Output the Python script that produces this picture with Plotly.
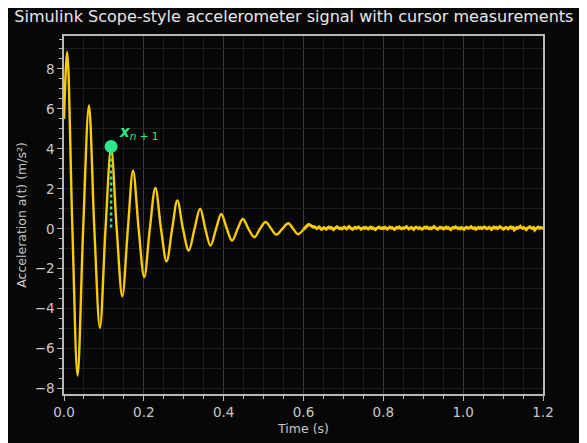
import numpy as np
import plotly.graph_objects as go

# --- data ---
# damped oscillation: start, extrema and zero crossings (time s, accel m/s^2)
osc_t = [0.000, 0.008, 0.021, 0.034, 0.048, 0.0625, 0.076, 0.090, 0.104, 0.118,
         0.132, 0.146, 0.160, 0.173, 0.187, 0.201, 0.215, 0.229, 0.243, 0.257,
         0.271, 0.284, 0.298, 0.3125, 0.327, 0.341, 0.354, 0.367, 0.381, 0.394,
         0.408, 0.421, 0.435, 0.448, 0.462, 0.477, 0.491, 0.505, 0.519, 0.532,
         0.547, 0.562, 0.574, 0.586, 0.600]
osc_a = [5.50, 8.85, 0.00, -7.35, 0.00, 6.17, 0.00, -4.96, 0.00, 4.05,
         0.00, -3.38, 0.00, 2.92, 0.00, -2.42, 0.00, 2.05, 0.00, -1.63,
         0.00, 1.42, 0.00, -1.09, 0.00, 1.01, 0.00, -0.84, 0.00, 0.74,
         0.00, -0.59, 0.00, 0.49, 0.00, -0.42, 0.00, 0.34, 0.00, -0.29,
         0.00, 0.28, 0.00, -0.27, -0.03]

# noisy residual tail, sampled every 3 ms from 0.6 s to 1.2 s
tail_start, tail_step = 0.6, 0.003
tail_a = [-0.03, 0.04, 0.11, 0.17, 0.21, 0.20, 0.16, 0.12, 0.09, 0.11, 0.06, 0.02, 0.05, 0.09, 0.03, -0.03, 0.01, 0.06, 0.02, -0.02,
          0.04, 0.08, 0.03, 0.07, 0.01, -0.04, 0.02, 0.06, 0.10, 0.05, 0.01, 0.04, -0.01, 0.03, 0.08, 0.04, 0.00, 0.06, 0.11, 0.05,
          0.02, -0.03, 0.03, 0.07, 0.02, 0.05, 0.09, 0.04, -0.02, 0.01, 0.06, 0.02, 0.07, 0.03, -0.01, 0.04, 0.08, 0.02, 0.05, 0.00,
          -0.04, 0.02, 0.06, 0.09, 0.04, 0.01, 0.05, 0.02, 0.07, 0.03, -0.02, 0.03, 0.08, 0.04, 0.06, 0.01, -0.03, 0.02, 0.07, 0.04,
          0.09, 0.03, 0.00, 0.05, 0.02, 0.06, 0.10, 0.04, -0.01, 0.03, 0.07, 0.02, -0.03, 0.04, 0.08, 0.05, 0.01, 0.06, 0.03, -0.02,
          0.02, 0.07, 0.04, 0.09, 0.03, 0.00, 0.05, 0.01, 0.06, 0.11, 0.05, 0.02, -0.02, 0.03, 0.07, 0.03, 0.05, -0.01, 0.04, 0.08,
          0.02, 0.06, 0.00, -0.04, 0.03, 0.07, 0.04, 0.09, 0.05, 0.01, 0.04, 0.00, 0.06, 0.02, -0.03, 0.03, 0.08, 0.05, 0.02, 0.06,
          0.10, 0.04, 0.01, 0.05, -0.02, 0.02, 0.07, 0.03, 0.06, 0.01, 0.04, 0.09, 0.05, 0.00, 0.03, 0.07, 0.02, -0.03, 0.04, 0.08,
          0.03, 0.06, 0.01, 0.05, 0.11, 0.06, 0.02, -0.02, 0.03, 0.07, 0.04, 0.00, 0.05, 0.09, 0.03, 0.06, -0.05, 0.01, 0.06, 0.03,
          0.08, 0.12, 0.05, 0.02, 0.06, 0.01, -0.04, 0.03, 0.07, 0.10, 0.04, 0.02, 0.06, -0.06, 0.01, 0.05, 0.08, 0.03, 0.06, 0.04, 0.02]
tail_t = np.round(tail_start + tail_step * np.arange(len(tail_a)), 4)

# cursor measurement
cursor_t = 0.118
cursor_a = 4.12
cursor_label = "<b><i>x</i></b><sub><i>n</i> + 1</sub>"

title_text = "Simulink Scope-style accelerometer signal with cursor measurements"
x_title = "Time (s)"
y_title = "Acceleration a(t) (m/s²)"

# --- style ---
FONT = "DejaVu Sans"
BG = "#070707"
SIG = "#f7cc00"
GREEN = "#2ce88a"
FRAME = "#b8b8b8"
TICKC = "#c8c8c8"

fig = go.Figure()
fig.add_trace(go.Scatter(x=osc_t, y=osc_a, mode="lines",
                         line=dict(color=SIG, width=2.4, shape="spline", smoothing=1.0),
                         hoverinfo="skip", showlegend=False))
fig.add_trace(go.Scatter(x=tail_t, y=tail_a, mode="lines",
                         line=dict(color=SIG, width=3.0),
                         hoverinfo="skip", showlegend=False))
# cursor dotted drop line and marker
fig.add_trace(go.Scatter(x=[cursor_t, cursor_t], y=[cursor_a, 0], mode="lines",
                         line=dict(color=GREEN, width=2.5, dash="dot"),
                         showlegend=False, hoverinfo="skip"))
fig.add_trace(go.Scatter(x=[cursor_t], y=[cursor_a], mode="markers",
                         marker=dict(color=GREEN, size=13),
                         showlegend=False, hoverinfo="skip"))
# secondary overlay axis only for faint unit-spaced horizontal gridlines
fig.add_trace(go.Scatter(x=[0], y=[0], yaxis="y2", mode="markers",
                         marker=dict(opacity=0), showlegend=False, hoverinfo="skip"))

fig.add_annotation(x=cursor_t + 0.016, y=cursor_a + 0.72, text=cursor_label,
                   showarrow=False, xanchor="left", yanchor="middle",
                   font=dict(family=FONT, size=15, color=GREEN))

fig.update_layout(
    width=587, height=443,
    margin=dict(l=56, r=52, t=28, b=57),
    paper_bgcolor=BG, plot_bgcolor=BG,
    font=dict(family=FONT, size=12.5, color=TICKC),
    title=dict(text=title_text, x=0.487, xanchor="center", xref="container",
               y=0.993, yref="container", yanchor="top",
               font=dict(family=FONT, size=16, color="#e8e8e8")),
    xaxis=dict(range=[0, 1.2], dtick=0.2, tick0=0, tickformat=".1f",
               showgrid=True, gridcolor="#3a3a3a", gridwidth=1,
               zeroline=False, showline=True, mirror=True,
               linecolor=FRAME, linewidth=1.5,
               ticks="outside", ticklen=5, tickcolor=FRAME, tickwidth=1,
               minor=dict(dtick=0.05, tick0=0, ticks="outside", ticklen=3,
                          tickcolor=FRAME, showgrid=True, gridcolor="#1c1c1c"),
               title=dict(text=x_title, standoff=5,
                          font=dict(family=FONT, size=12.5, color=TICKC)),
               tickfont=dict(family=FONT, size=13.5, color=TICKC)),
    yaxis=dict(range=[-8.27, 9.65], dtick=2, tick0=0,
               showgrid=True, gridcolor="#3a3a3a", gridwidth=1,
               zeroline=False, showline=True, mirror=True,
               linecolor=FRAME, linewidth=1.5,
               ticks="outside", ticklen=5, tickcolor=FRAME, tickwidth=1,
               minor=dict(dtick=0.5, tick0=0, ticks="outside", ticklen=3,
                          tickcolor=FRAME, showgrid=False),
               title=dict(text=y_title, standoff=5,
                          font=dict(family=FONT, size=12.5, color=TICKC)),
               tickfont=dict(family=FONT, size=13.5, color=TICKC)),
    yaxis2=dict(range=[-8.27, 9.65], dtick=1, tick0=0, overlaying="y",
                side="right", showticklabels=False, ticks="",
                showgrid=True, gridcolor="#1c1c1c", zeroline=False,
                showline=False, layer="below traces"),
)
fig.write_html("out.html")
